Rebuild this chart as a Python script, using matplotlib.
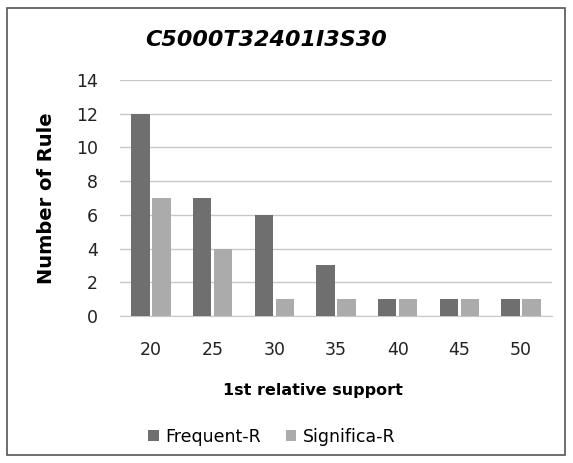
import numpy as np
import matplotlib.pyplot as plt
from matplotlib.patches import Rectangle

# data
categories = ["20", "25", "30", "35", "40", "45", "50"]
frequent_r = [12, 7, 6, 3, 1, 1, 1]
significa_r = [7, 4, 1, 1, 1, 1, 1]

W, H = 573, 463
fig = plt.figure(figsize=(W / 100, H / 100), dpi=100)
fig.patch.set_facecolor("white")

# outer chart border
fig.patches.append(Rectangle((7 / W, 8 / H), (565 - 7) / W, (455 - 8) / H,
                             transform=fig.transFigure, fill=False,
                             edgecolor="#555555", linewidth=1.2))

left, right, top, bottom = 120, 552, 80, 316
ax = fig.add_axes([left / W, 1 - bottom / H, (right - left) / W, (bottom - top) / H])

x = np.arange(len(categories))
bw = 0.3
ax.bar(x - bw / 2 - 0.02, frequent_r, bw, color="#6f6f6f", label="Frequent-R", zorder=3)
ax.bar(x + bw / 2 + 0.02, significa_r, bw, color="#ababab", label="Significa-R", zorder=3)

ax.set_xlim(-0.5, len(categories) - 0.5)
ax.set_ylim(0, 14)
ax.set_yticks(range(0, 15, 2))
ax.set_xticks(x)
ax.set_xticklabels(categories)
ax.yaxis.grid(True, color="#c8c8c8", linewidth=1, zorder=0)
for s in ["top", "right", "left"]:
    ax.spines[s].set_visible(False)
ax.spines["bottom"].set_color("#c8c8c8")
ax.tick_params(axis="both", length=0, labelsize=12.5, colors="#222222")
ax.tick_params(axis="x", pad=18)
ax.tick_params(axis="y", pad=16)

ax.set_xlabel("1st relative support", fontsize=11.5, fontweight="bold")
ax.xaxis.set_label_coords((313 - left) / (right - left), -(383 - bottom) / (bottom - top))
ax.set_ylabel("Number of Rule", fontsize=14, fontweight="bold",
              family="DejaVu Sans Condensed")
ax.yaxis.set_label_coords(-(120 - 56) / (right - left), 0.5)

fig.text(266 / W, 1 - 40 / H, "C5000T32401I3S30", ha="center", va="center",
         fontsize=16, fontweight="bold", style="italic")

fig.legend(loc="center", bbox_to_anchor=(272 / W, 1 - 437 / H), ncol=2, frameon=False,
           fontsize=12.5, handlelength=0.6, handleheight=0.6, columnspacing=1.4,
           handletextpad=0.4)

fig.savefig("out.png", dpi=100)
